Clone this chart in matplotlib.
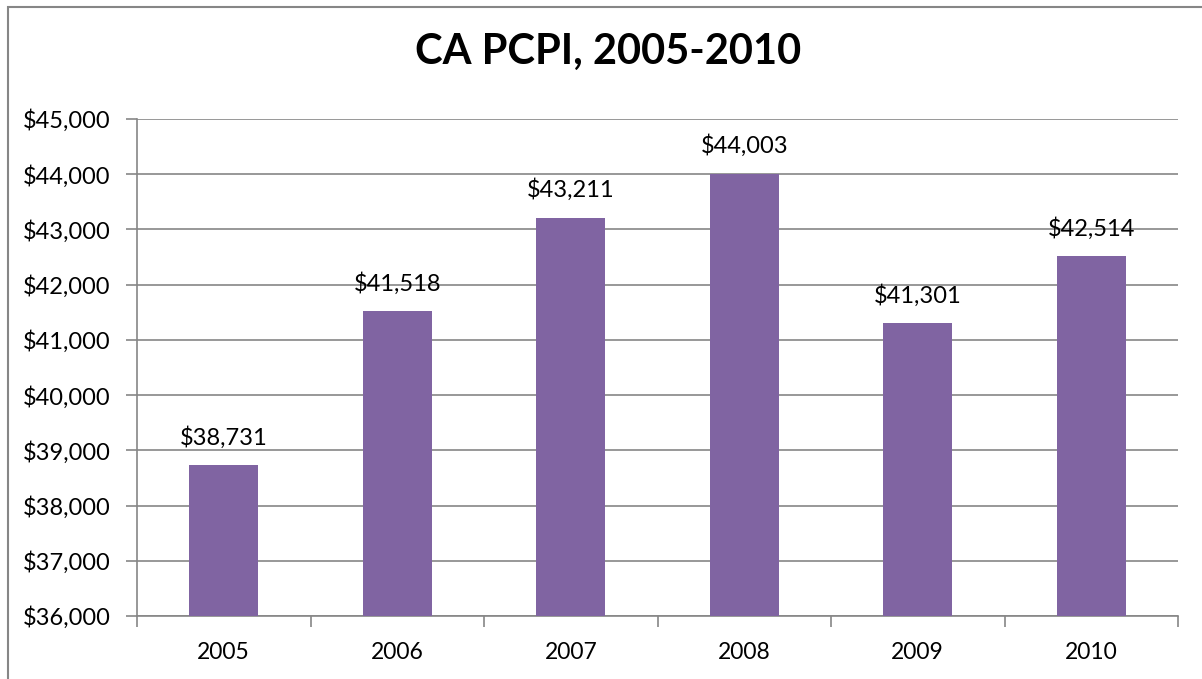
import matplotlib
matplotlib.use('Agg')
import matplotlib.pyplot as plt
from matplotlib.patches import Rectangle
import numpy as np

years = ['2005', '2006', '2007', '2008', '2009', '2010']
pcpi = [38731, 41518, 43211, 44003, 41301, 42514]
yticks = np.arange(36000, 45000 + 1, 1000)

matplotlib.rc('font', family=['Lato', 'DejaVu Sans'], size=14)

W, H = 1202, 679
fig = plt.figure(figsize=(W / 100, H / 100), dpi=100)

# chart frame (runs off the right and bottom edges)
fig.patches.append(Rectangle((7.5 / W, -0.1), 1.2, 1 - 7.5 / H + 0.1,
                             transform=fig.transFigure, fill=False,
                             edgecolor='#868686', lw=1.5))

left, right, top, bottom = 137, 1178, 119, 616
ax = fig.add_axes([left / W, 1 - bottom / H, (right - left) / W, (bottom - top) / H])

x = np.arange(len(years))
ax.bar(x, pcpi, width=0.4, color='#8064A2', zorder=3)
for xi, v in zip(x, pcpi):
    ax.annotate('${:,}'.format(v), (xi, v), xytext=(0, 15), textcoords='offset points',
                ha='center', va='baseline', fontsize=17)

ax.set_xlim(-0.5, len(years) - 0.5)
ax.set_ylim(36000, 45000)
ax.set_yticks(yticks)
ax.set_yticklabels(['${:,}'.format(t) for t in yticks])
ax.set_xticks(x)
ax.set_xticklabels(years)
ax.set_xticks(np.arange(-0.5, len(years)), minor=True)
ax.tick_params(axis='x', which='major', length=0, pad=19, labelsize=16.5)
ax.tick_params(axis='x', which='minor', length=8, color='#868686', width=1.2)
ax.tick_params(axis='y', length=8, color='#868686', width=1.2, pad=11, labelsize=17)
ax.yaxis.grid(True, color='#868686', lw=1.2, zorder=0)

for s in ['top', 'right']:
    ax.spines[s].set_visible(False)
for s in ['left', 'bottom']:
    ax.spines[s].set_color('#868686')
    ax.spines[s].set_linewidth(1.2)

fig.text(608 / W, 1 - 52 / H, 'CA PCPI, 2005-2010', ha='center', va='center',
         fontsize=30, fontweight='bold')

fig.savefig('out.png', dpi=100)
